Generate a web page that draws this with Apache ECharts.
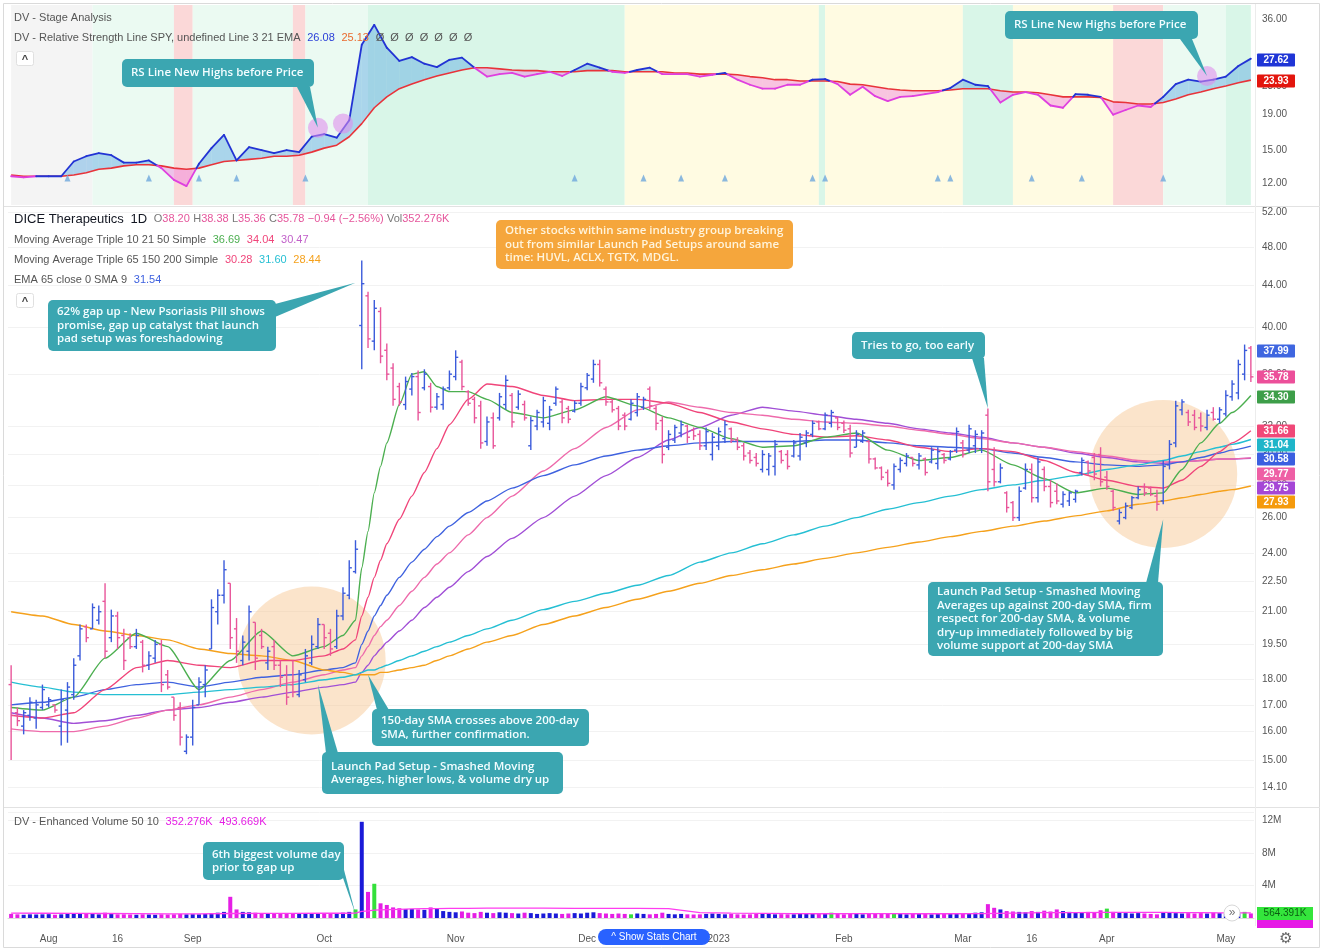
<!DOCTYPE html>
<html>
<head>
<meta charset="utf-8">
<title>DICE Therapeutics - Launch Pad Setup</title>
<script src="https://cdn.jsdelivr.net/npm/echarts@6.0.0/dist/echarts.min.js"></script>
<style>
    html, body {margin:0;padding:0;background:#fff;}
    #chart {width:1323px;height:951px;}
</style>
</head>
<body>
<div id="chart"></div>
<script>
// trading days 22 Jul 2022 - 5 May 2023 (weekends and exchange holidays skipped)
var holidays = ['2022-09-05', '2022-11-24', '2022-12-26', '2023-01-02', '2023-01-16', '2023-02-20', '2023-04-07'];
var dates = [];
var day = new Date(Date.UTC(2022, 6, 22));
while (dates.length < 199) {
    var s = day.toISOString().slice(0, 10), wd = day.getUTCDay();
    if (wd !== 0 && wd !== 6 && holidays.indexOf(s) < 0) dates.push(s);
    day.setUTCDate(day.getUTCDate() + 1);
}

var xLabelDates = ['2022-08-01', '2022-08-16', '2022-09-01', '2022-10-03', '2022-11-01', '2022-12-01',
    '2023-01-03', '2023-02-01', '2023-03-01', '2023-03-16', '2023-04-03', '2023-05-01'];
var xLabelTexts = ['Aug', '16', 'Sep', 'Oct', 'Nov', 'Dec', '2023', 'Feb', 'Mar', '16', 'Apr', 'May'];

var rsTicks = [36, 27, 23, 19, 15, 12];
var priceTicks = [52, 48, 44, 40, 36, 32, 30, 28, 26, 24, 22.5, 21, 19.5, 18, 17, 16, 15, 14.1];

// daily bars: [open, close, low, high]
var ohlc = [
    [17.8,16.6,15.0,18.6],[16.7,16.4,16.2,16.9],[16.2,16.7,15.9,16.8],[16.6,17.1,16.4,17.3],[16.5,17.0,16.1,17.2],
    [16.9,17.6,16.8,17.8],[17.0,17.2,16.9,17.3],[17.0,16.8,16.7,17.0],[16.2,17.2,15.5,17.6],[16.8,17.7,15.6,17.9],
    [17.4,18.6,17.2,18.9],[19.0,20.2,18.8,20.4],[20.3,19.8,19.6,20.4],[20.2,21.2,20.2,21.4],[20.6,21.0,20.4,21.3],
    [21.5,19.2,18.9,22.4],[19.8,20.8,19.6,21.1],[20.8,19.8,19.3,21.0],[19.9,18.8,18.4,20.2],[19.8,19.4,19.3,20.0],
    [19.4,19.9,19.3,20.2],[19.6,18.6,18.3,19.7],[18.6,19.0,18.4,19.2],[18.9,19.5,18.7,19.7],[19.5,17.8,17.5,19.7],
    [18.2,17.7,17.6,18.4],[17.3,16.6,16.4,17.3],[16.9,15.8,15.5,17.1],[15.3,15.8,15.2,15.9],[15.8,16.9,15.5,17.2],
    [17.0,17.9,17.0,18.1],[17.8,18.4,17.3,18.6],[19.3,21.2,19.3,21.6],[21.0,21.8,20.4,22.1],[21.8,23.1,21.4,23.6],
    [22.4,19.8,19.3,22.4],[20.2,19.2,18.7,20.7],[18.8,19.6,18.6,19.9],[19.2,21.0,18.8,21.3],[20.5,18.9,18.4,20.5],
    [19.9,19.4,19.3,20.2],[18.7,19.2,18.4,19.4],[19.4,18.6,18.4,19.7],[18.6,18.1,17.7,18.8],[18.2,17.3,17.0,18.6],
    [17.8,17.5,17.3,18.8],[17.4,18.2,17.3,18.4],[18.0,19.0,17.9,19.3],[18.7,19.5,18.6,19.9],[19.4,20.4,19.3,20.7],
    [20.4,19.8,19.3,20.4],[20.0,19.3,19.0,20.2],[19.4,20.8,19.3,21.1],[20.8,21.9,20.6,22.2],[21.8,23.2,21.6,23.6],
    [23.0,24.2,22.9,24.7],[40.2,44.2,36.4,46.6],[43.0,39.0,38.2,43.4],[38.8,41.8,38.0,42.6],[41.5,37.5,36.9,41.9],
    [38.0,36.0,35.5,38.6],[36.5,34.0,33.5,36.9],[35.0,33.8,33.5,35.3],[33.6,35.4,33.2,35.8],[34.8,35.8,34.3,36.1],
    [35.8,33.0,32.4,36.3],[34.9,36.0,34.7,36.4],[35.0,33.4,33.0,35.3],[33.4,34.2,33.2,34.5],[33.6,34.8,33.2,35.0],
    [34.9,36.0,34.7,36.3],[35.8,37.4,35.5,38.0],[37.0,35.0,34.7,37.2],[34.6,33.7,33.5,34.7],[34.0,32.6,32.2,34.2],
    [33.5,30.8,30.4,33.9],[30.9,32.3,30.6,32.7],[32.6,30.6,30.4,33.0],[32.6,34.2,32.4,34.5],[33.6,35.5,33.2,35.9],
    [34.3,32.3,31.9,34.5],[33.4,34.4,33.2,34.7],[33.6,32.6,32.4,33.9],[30.6,32.4,30.3,32.7],[32.0,33.0,31.7,33.2],
    [32.3,33.9,31.9,34.2],[32.2,33.2,31.7,33.5],[33.7,34.8,33.5,35.0],[33.8,32.6,32.2,34.0],[33.3,32.5,32.2,33.5],
    [33.1,33.7,33.0,33.9],[33.7,35.0,33.5,35.3],[34.9,35.9,34.7,36.1],[35.6,36.8,35.3,37.2],[36.8,35.3,35.0,37.2],
    [34.8,33.8,33.5,35.0],[33.8,33.2,33.0,34.0],[33.3,32.0,31.7,33.5],[32.8,32.0,31.7,33.0],[32.5,33.7,32.4,34.0],
    [33.0,34.2,32.7,34.5],[33.4,34.0,33.2,34.2],[34.8,33.5,33.2,35.0],[33.3,32.2,31.7,33.5],[32.4,30.0,29.4,32.7],
    [30.5,31.4,30.3,31.7],[31.0,31.9,30.8,32.1],[31.5,32.1,31.2,32.4],[32.0,31.2,30.8,32.1],[31.7,31.3,31.0,31.9],
    [31.4,30.6,30.3,31.7],[30.6,31.6,30.3,31.9],[30.0,31.2,29.6,31.5],[30.6,31.6,30.3,31.9],[31.1,32.1,30.8,32.4],
    [31.8,31.0,30.8,31.9],[31.0,30.5,30.3,31.2],[30.6,29.9,29.6,30.8],[30.1,29.6,29.4,30.3],[29.8,29.4,29.2,30.1],
    [29.0,30.0,28.8,30.3],[29.0,29.9,28.6,30.1],[29.2,30.7,28.6,31.0],[30.2,29.6,29.4,30.3],[30.0,29.2,29.0,30.3],
    [29.9,30.8,29.8,31.0],[29.9,31.2,29.6,31.5],[30.8,31.5,30.5,31.7],[31.4,32.2,31.2,32.4],[32.3,31.8,31.7,32.4],
    [31.8,32.8,31.7,33.0],[32.2,33.0,31.9,33.2],[32.6,31.9,31.7,32.7],[32.2,31.7,31.5,32.4],[31.8,30.1,29.8,32.1],
    [30.5,31.4,30.5,31.7],[30.9,31.5,30.8,31.7],[30.9,29.7,29.4,31.0],[29.7,29.1,29.0,29.8],[29.1,28.5,28.3,29.2],
    [28.8,28.1,27.9,29.0],[28.0,29.2,27.7,29.4],[29.0,29.6,28.8,29.8],[29.4,29.9,29.2,30.1],[29.8,29.4,29.2,29.8],
    [29.3,29.9,29.0,30.1],[29.7,28.8,28.6,29.8],[29.5,30.3,29.4,30.5],[29.4,30.2,29.0,30.5],[30.0,29.6,29.4,30.1],
    [29.7,30.2,29.6,30.3],[30.3,31.6,30.1,31.9],[30.8,30.0,29.8,31.0],[30.3,31.8,30.1,32.1],[30.6,31.4,30.1,31.7],
    [30.4,31.5,30.1,31.7],[32.8,28.2,27.6,33.3],[29.0,28.2,27.9,30.5],[28.2,29.1,28.1,29.4],[27.5,26.6,26.3,27.6],
    [26.9,26.0,25.8,27.0],[26.0,27.6,25.8,27.9],[27.8,29.0,27.7,29.4],[29.0,27.2,26.9,29.4],[27.2,29.5,26.9,29.8],
    [29.0,27.9,27.6,29.2],[27.9,26.9,26.6,28.3],[27.6,27.0,26.8,28.1],[26.8,27.4,26.6,27.6],[27.0,27.5,26.7,27.6],
    [27.1,27.6,26.9,27.7],[28.8,29.6,28.6,29.8],[29.5,28.9,28.6,29.6],[29.8,28.7,28.3,30.1],[30.0,28.2,27.9,30.5],
    [28.5,27.9,27.7,28.9],[27.6,26.6,26.4,27.7],[25.8,26.3,25.6,26.5],[26.0,26.7,25.9,26.9],[26.6,27.2,26.5,27.3],
    [27.2,27.7,27.1,27.9],[27.9,27.5,27.3,28.1],[27.8,27.4,27.3,27.9],[27.3,26.8,26.4,27.7],[27.0,29.2,26.8,29.6],
    [29.3,30.7,29.0,31.0],[30.8,33.5,30.5,33.9],[33.2,33.8,32.8,34.0],[33.0,32.3,32.0,33.2],[32.8,31.9,31.7,33.2],
    [32.6,32.0,31.6,33.0],[31.9,32.8,31.7,33.2],[33.0,32.5,32.4,33.4],[32.5,33.2,32.2,33.4],[32.9,34.3,32.7,34.7],
    [34.2,35.2,33.9,35.5],[34.5,36.8,34.0,37.2],[36.0,37.99,35.5,38.5],[38.2,35.78,35.36,38.38]
];

// volume, millions
var vol = [
    0.50,0.45,0.40,0.45,0.43,0.45,0.47,0.40,0.45,0.50,
    0.55,0.60,0.50,0.55,0.45,0.65,0.50,0.45,0.45,0.43,
    0.40,0.45,0.43,0.40,0.45,0.43,0.45,0.50,0.45,0.47,
    0.45,0.50,0.60,0.65,0.75,2.60,1.05,0.75,0.70,0.65,
    0.60,0.55,0.60,0.55,0.55,0.50,0.55,0.53,0.55,0.60,
    0.55,0.57,0.60,0.65,0.75,1.05,11.8,3.20,4.20,1.80,
    1.60,1.30,1.20,1.10,1.10,1.05,1.00,1.30,1.15,0.85,
    0.75,0.70,0.80,0.65,0.60,0.75,0.65,0.60,0.70,0.65,
    0.60,0.55,0.65,0.60,0.50,0.55,0.60,0.55,0.50,0.55,
    0.60,0.55,0.65,0.70,0.60,0.55,0.50,0.55,0.50,0.45,
    0.55,0.50,0.45,0.50,0.65,0.50,0.45,0.50,0.45,0.43,
    0.45,0.50,0.55,0.50,0.45,0.50,0.45,0.43,0.45,0.50,
    0.55,0.50,0.45,0.47,0.45,0.45,0.50,0.55,0.60,0.50,
    0.55,0.65,0.50,0.45,0.55,0.50,0.45,0.50,0.55,0.50,
    0.60,0.55,0.50,0.45,0.50,0.55,0.50,0.45,0.55,0.50,
    0.50,0.55,0.60,0.55,0.65,0.70,1.70,1.25,1.05,0.85,
    0.80,0.75,0.70,0.85,0.75,0.90,0.80,1.05,0.85,0.75,
    0.70,0.65,0.75,0.70,0.95,1.15,0.75,0.65,0.60,0.55,
    0.60,0.55,0.50,0.45,0.70,0.65,0.60,0.55,0.60,0.55,
    0.60,0.55,0.65,0.60,0.55,0.65,0.70,0.75,0.56
];
var pivotDays = [55, 58, 99, 131, 141, 175, 197];

// moving averages, read at these bar indexes
var maIdx = [0,5,10,15,20,25,30,35,40,45, 50,53,55,56,57,58,59,60,62,64, 66,68,70,73,76,80,85,90,95,100,
    105,110,115,120,125,130,135,140,145,150, 155,160,165,170,175,180,184,187,190,193, 195,198];
var sma10 = [16.9,16.8,17.3,18.9,20.0,19.4,17.6,18.8,20.1,19.0, 19.4,19.9,20.6,23.2,25.2,27.5,29.2,30.8,33.6,36.0,
    36.2,35.0,34.6,34.6,34.0,33.0,32.6,33.2,34.2,33.5, 32.6,31.9,31.1,30.5,30.6,31.2,31.5,30.3,29.6,29.8,
    30.3,29.3,28.4,27.5,27.8,27.4,27.5,29.0,30.8,32.2, 33.0,34.3];
var sma21 = [16.6,16.5,16.7,17.6,18.5,18.8,18.6,18.5,18.8,18.8, 19.0,19.3,19.7,20.8,21.7,22.7,23.6,24.5,25.9,27.3,
    28.8,30.4,32.1,34.0,35.2,35.0,34.3,33.9,34.0,34.0, 33.7,33.0,32.3,31.8,31.4,31.2,31.3,31.0,30.5,30.2,
    30.4,30.2,29.6,28.8,28.3,27.9,27.8,28.3,29.2,30.2, 30.8,31.66];
var sma50 = [16.1,16.0,16.0,16.2,16.5,16.8,17.0,17.3,17.6,17.9, 18.2,18.4,18.5,19.0,19.4,19.9,20.3,20.6,21.3,22.0,
    22.7,23.4,24.0,25.0,26.0,27.3,28.9,30.4,31.9,33.2, 33.8,33.4,33.0,32.8,32.5,32.3,32.2,32.0,31.7,31.4,
    31.1,30.8,30.5,30.2,29.9,29.6,29.5,29.5,29.6,29.7, 29.7,29.77];
var sma65 = [16.7,16.5,16.3,16.4,16.6,16.8,16.9,17.1,17.3,17.5, 17.7,17.8,17.9,18.3,18.6,19.0,19.3,19.6,20.1,20.6,
    21.2,21.7,22.2,23.0,23.8,24.8,26.0,27.3,28.6,29.8, 31.0,31.9,32.8,33.4,33.1,32.8,32.5,32.2,31.8,31.5,
    31.2,30.8,30.5,30.1,29.8,29.5,29.4,29.5,29.6,29.7, 29.7,29.75];
var ema65 = [17.0,17.1,17.3,17.6,17.8,17.9,17.7,17.9,18.1,18.2, 18.4,18.5,18.7,19.5,20.1,20.8,21.3,21.8,22.7,23.5,
    24.2,24.9,25.5,26.3,27.0,27.8,28.6,29.3,29.9,30.3, 30.6,30.8,30.9,30.9,30.9,31.0,31.0,30.8,30.6,30.5,
    30.4,30.1,29.8,29.5,29.3,29.2,29.3,29.5,29.8,30.1, 30.3,30.58];
var sma150 = [17.9,17.7,17.5,17.4,17.4,17.4,17.5,17.6,17.7,17.8, 18.0,18.1,18.2,18.3,18.4,18.4,18.5,18.6,18.8,19.0,
    19.2,19.4,19.6,19.9,20.2,20.6,21.1,21.5,21.9,22.3, 22.8,23.5,24.0,24.5,25.0,25.5,26.0,26.5,26.9,27.3,
    27.7,28.0,28.3,28.6,29.0,29.3,29.6,29.9,30.2,30.5, 30.7,31.04];
var sma200 = [21.0,20.8,20.4,20.1,19.9,19.7,19.3,19.1,19.0,18.8, 18.4,18.3,18.2,18.2,18.2,18.2,18.3,18.3,18.4,18.5,
    18.6,18.8,19.0,19.3,19.6,19.9,20.4,20.8,21.2,21.6, 22.0,22.4,22.8,23.1,23.4,23.7,24.0,24.3,24.6,24.9,
    25.2,25.5,25.8,26.1,26.4,26.8,27.0,27.2,27.4,27.6, 27.7,27.93];
var volMa = [0.60,0.58,0.56,0.55,0.53,0.51,0.51,0.55,0.57,0.57, 0.58,0.58,0.59,0.82,0.88,0.96,0.99,1.02,1.07,1.11,
    1.14,1.16,1.18,1.19,1.20,1.20,1.20,1.19,1.18,1.17, 1.15,0.65,0.60,0.57,0.53,0.52,0.53,0.53,0.52,0.52,
    0.53,0.60,0.65,0.67,0.70,0.70,0.70,0.67,0.65,0.64, 0.64,0.64];

// relative strength line vs SPY and its 21 EMA, every second bar
var rsIdx = [];
for (var k = 0; k < 100; k++) rsIdx.push(k * 2);
var rs = [12.6,12.5,12.6,12.6,12.6,13.9,14.4,14.7,14.5,13.8, 13.8,14.0,13.3,12.3,11.8,13.7,15.2,16.6,14.0,15.3,
    15.0,14.7,15.0,14.8,16.4,16.7,16.3,18.3,30.3,34.6, 29.7,27.2,27.9,26.7,26.1,27.4,27.8,26.0,24.5,24.9,
    25.1,24.5,24.9,25.3,24.6,25.6,26.7,26.0,25.3,25.1, 25.6,26.0,24.9,24.9,24.9,24.5,24.8,25.1,24.0,23.2,
    22.6,22.6,23.2,23.2,24.0,24.1,23.3,21.7,22.9,21.5, 20.8,21.4,21.5,21.8,22.1,22.7,24.0,23.2,23.0,20.6,
    21.7,22.1,21.7,20.2,19.9,21.8,21.7,21.4,19.0,19.6, 20.2,20.0,21.4,23.3,24.0,23.7,24.0,24.5,26.3,27.62];
var rsEma = [12.7,12.6,12.6,12.6,12.6,12.7,12.9,13.2,13.3,13.5, 13.6,13.6,13.5,13.3,13.2,13.3,13.6,13.9,14.0,14.1,
    14.2,14.4,14.4,14.5,14.8,15.2,15.5,16.4,17.9,19.9, 21.4,22.6,23.3,24.0,24.6,25.1,25.6,26.0,26.0,25.8,
    25.6,25.5,25.5,25.3,25.3,25.3,25.5,25.5,25.5,25.3, 25.3,25.3,25.3,25.1,25.1,24.9,24.9,24.9,24.8,24.5,
    24.3,24.0,24.0,23.8,23.8,23.8,23.7,23.3,23.2,22.9, 22.6,22.4,22.3,22.3,22.3,22.4,22.6,22.6,22.6,22.3,
    22.1,22.1,22.0,21.7,21.4,21.4,21.4,21.3,20.7,20.6, 20.4,20.4,20.6,21.1,21.7,22.1,22.6,23.0,23.5,23.93];
var rsSignals = [9, 22, 30, 36, 47, 90, 101, 107, 114, 128, 130, 148, 150, 163, 171, 184];
var rsHighlights = [[49, 17.4], [53, 17.9], [191, 24.6]];
var setupZones = [[48, 18.8], [184, 28.7]];

// stage analysis background
var stageFrom = [0, 13, 26, 29, 45, 47, 57, 98, 129, 130, 152, 160, 176, 184, 194];
var stageTo = [13, 26, 29, 45, 47, 57, 98, 129, 130, 152, 160, 176, 184, 194, 198];
var stageKind = ['base', 'early', 'down', 'early', 'down', 'early', 'up', 'top', 'up', 'top', 'up', 'top', 'down', 'early', 'up'];

var stageColor = {base: '#f4f4f4', early: '#ebfaf2', down: '#fbd8d8', up: '#d9f6e8', top: '#fffbe2'};
var UP = '#3b5bdb', DOWN = '#e8559a';
var RS_UP = '#2233d4', RS_DN = '#df3fdf';
var TEAL = '#3ba6b1', ORANGE = '#f5a63c';

function barItem(params, api) {
    var i = api.value(0);
    var o = api.coord([i, api.value(1)]), c = api.coord([i, api.value(2)]);
    var l = api.coord([i, api.value(3)]), h = api.coord([i, api.value(4)]);
    var st = {stroke: api.value(2) >= api.value(1) ? UP : DOWN, lineWidth: 1.4};
    return {type: 'group', children: [
        {type: 'line', shape: {x1: h[0], y1: h[1], x2: l[0], y2: l[1]}, style: st},
        {type: 'line', shape: {x1: o[0] - 2.6, y1: o[1], x2: o[0], y2: o[1]}, style: st},
        {type: 'line', shape: {x1: c[0], y1: c[1], x2: c[0] + 2.6, y2: c[1]}, style: st}
    ]};
}

// RS line coloured and filled by side of its EMA; crossings split at the intersection
function rsItem(mode) {
    return function (params, api) {
        var k = params.dataIndex;
        if (k >= rs.length - 1) return null;
        var a0 = api.coord([rsIdx[k], rs[k]]), a1 = api.coord([rsIdx[k + 1], rs[k + 1]]);
        var b0 = api.coord([rsIdx[k], rsEma[k]]), b1 = api.coord([rsIdx[k + 1], rsEma[k + 1]]);
        var up0 = rs[k] >= rsEma[k], up1 = rs[k + 1] >= rsEma[k + 1];
        var parts = [];
        if (up0 === up1) {
            parts.push([a0, a1, b1, b0, up0]);
        } else {
            var d0 = a0[1] - b0[1], d1 = a1[1] - b1[1], t = d0 / (d0 - d1);
            var m = [a0[0] + t * (a1[0] - a0[0]), a0[1] + t * (a1[1] - a0[1])];
            parts.push([a0, m, m, b0, up0]);
            parts.push([m, a1, b1, m, up1]);
        }
        return {type: 'group', children: parts.map(function (p) {
            if (mode === 'fill') {
                return {type: 'polygon', shape: {points: [p[0], p[1], p[2], p[3]]},
                    style: {fill: p[4] ? 'rgba(92,168,226,0.45)' : 'rgba(238,120,222,0.42)'}};
            }
            return {type: 'line', shape: {x1: p[0][0], y1: p[0][1], x2: p[1][0], y2: p[1][1]},
                style: {stroke: p[4] ? RS_UP : RS_DN, lineWidth: 1.8, lineCap: 'round'}};
        })};
    };
}

function pairs(idx, vals) {
    return idx.map(function (ix, n) { return [ix, vals[n]]; });
}

var maLines = [
    ['SMA 65', sma65, '#a14fd6'],
    ['SMA 50', sma50, '#ee6aab'],
    ['EMA 65', ema65, '#3f62df'],
    ['SMA 200', sma200, '#f5a11c'],
    ['SMA 150', sma150, '#25bfd3'],
    ['SMA 21', sma21, '#f0457a'],
    ['SMA 10', sma10, '#4caf50']
];

var yLabel = {color: '#555', fontSize: 10, fontFamily: 'Liberation Sans', margin: 8,
    formatter: function (v) { return Number(v).toFixed(2); }};

var series = [];
series.push({
    name: 'stages', type: 'line', xAxisIndex: 0, yAxisIndex: 0, data: [], silent: true, z: 0,
    markArea: {silent: true, data: stageFrom.map(function (f, j) {
        return [{xAxis: dates[f], itemStyle: {color: stageColor[stageKind[j]]}}, {xAxis: dates[stageTo[j]]}];
    })}
});
series.push({type: 'custom', xAxisIndex: 0, yAxisIndex: 0, renderItem: rsItem('fill'), z: 2, silent: true,
    data: rsIdx.map(function (ix, n) { return [ix, rs[n], rsEma[n]]; }), encode: {x: 0, y: [1, 2]}});
series.push({name: 'RS EMA 21', type: 'line', xAxisIndex: 0, yAxisIndex: 0, data: pairs(rsIdx, rsEma),
    symbol: 'none', z: 3, lineStyle: {color: '#e8333a', width: 1.6}});
series.push({type: 'custom', xAxisIndex: 0, yAxisIndex: 0, renderItem: rsItem('line'), z: 4, silent: true,
    data: rsIdx.map(function (ix, n) { return [ix, rs[n], rsEma[n]]; }), encode: {x: 0, y: [1, 2]}});
series.push({type: 'scatter', xAxisIndex: 0, yAxisIndex: 0, symbol: 'triangle', symbolSize: [6, 7], z: 4,
    itemStyle: {color: '#6ea7dc'}, data: rsSignals.map(function (i) { return [i, 12.45]; })});
series.push({type: 'scatter', xAxisIndex: 0, yAxisIndex: 0, symbolSize: 20, z: 5,
    itemStyle: {color: 'rgba(222,138,236,0.72)'}, data: rsHighlights});

series.push({type: 'scatter', xAxisIndex: 1, yAxisIndex: 1, symbolSize: 148, z: 1, silent: true,
    itemStyle: {color: 'rgba(246,194,136,0.55)'}, data: setupZones});
maLines.forEach(function (m) {
    series.push({name: m[0], type: 'line', xAxisIndex: 1, yAxisIndex: 1, data: pairs(maIdx, m[1]),
        symbol: 'none', smooth: 0.2, smoothMonotone: 'x', z: 2, lineStyle: {color: m[2], width: 1.4}});
});
series.push({name: 'DICE', type: 'custom', xAxisIndex: 1, yAxisIndex: 1, renderItem: barItem, z: 3,
    data: ohlc.map(function (b, i) { return [i, b[0], b[1], b[2], b[3]]; }), encode: {x: 0, y: [1, 2, 3, 4]}});

series.push({name: 'Volume', type: 'bar', xAxisIndex: 2, yAxisIndex: 2, data: vol, barWidth: 4,
    itemStyle: {color: function (p) {
        if (pivotDays.indexOf(p.dataIndex) >= 0) return '#33e03a';
        return ohlc[p.dataIndex][1] >= ohlc[p.dataIndex][0] ? '#1a1ad8' : '#e51ee5';
    }}});
series.push({name: 'Vol MA 50', type: 'line', xAxisIndex: 2, yAxisIndex: 2, data: pairs(maIdx, volMa),
    symbol: 'none', z: 3, lineStyle: {color: '#ff3cf0', width: 1.3}});

var option = {
    animation: false,
    backgroundColor: '#fff',
    grid: [
        {left: 8, right: 69, top: 5, height: 200},
        {left: 8, right: 69, top: 207, height: 593},
        {left: 8, right: 69, top: 812, height: 106}
    ],
    xAxis: [0, 1, 2].map(function (g) {
        return {
            type: 'category', gridIndex: g, data: dates,
            axisLine: {show: g === 2, lineStyle: {color: '#dcdcdc'}},
            axisTick: {show: false},
            splitLine: {show: false},
            axisLabel: g === 2 ? {
                color: '#555', fontSize: 10, fontFamily: 'Liberation Sans', margin: 16,
                interval: function (i, v) { return xLabelDates.indexOf(v) >= 0; },
                formatter: function (v) { return xLabelTexts[xLabelDates.indexOf(v)] || ''; }
            } : {show: false}
        };
    }),
    yAxis: [
        {type: 'log', gridIndex: 0, position: 'right', min: 10.4, max: 39.5,
            axisLine: {show: false}, axisTick: {show: false, customValues: rsTicks},
            splitLine: {show: false},
            axisLabel: Object.assign({customValues: rsTicks}, yLabel)},
        {type: 'log', gridIndex: 1, position: 'right', min: 13.7, max: 52.6,
            axisLine: {show: false}, axisTick: {show: false, customValues: priceTicks},
            splitLine: {show: true, lineStyle: {color: '#f2f2f2'}},
            axisLabel: Object.assign({customValues: priceTicks}, yLabel)},
        {type: 'value', gridIndex: 2, position: 'right', min: 0, max: 13, interval: 4,
            axisLine: {show: false}, axisTick: {show: false},
            splitLine: {show: true, lineStyle: {color: '#f2f2f2'}},
            axisLabel: {color: '#555', fontSize: 10, fontFamily: 'Liberation Sans', margin: 8,
                formatter: function (v) { return v === 0 ? '' : v + 'M'; }}}
    ],
    series: series
};

var chart = echarts.init(document.getElementById('chart'), null, {renderer: 'canvas'});
chart.setOption(option);

// ---- overlays: legends, price tags, callouts ----
var FONT = 'Liberation Sans';
var richBase = {
    g: {fill: '#555', fontSize: 11, fontFamily: FONT},
    t: {fill: '#131722', fontSize: 13, fontFamily: FONT},
    k: {fill: '#777', fontSize: 11, fontFamily: FONT},
    p: {fill: '#e5559b', fontSize: 11, fontFamily: FONT},
    b: {fill: '#2a3fd8', fontSize: 11, fontFamily: FONT},
    r: {fill: '#ea6b2f', fontSize: 11, fontFamily: FONT},
    gr: {fill: '#4caf50', fontSize: 11, fontFamily: FONT},
    pk: {fill: '#f0457a', fontSize: 11, fontFamily: FONT},
    pu: {fill: '#c15fc9', fontSize: 11, fontFamily: FONT},
    te: {fill: '#25bfd3', fontSize: 11, fontFamily: FONT},
    or: {fill: '#f5a11c', fontSize: 11, fontFamily: FONT},
    bl: {fill: '#3f62df', fontSize: 11, fontFamily: FONT},
    m: {fill: '#e51ee5', fontSize: 11, fontFamily: FONT}
};
var legendLines = [
    [14, 18, '{g|DV - Stage Analysis}'],
    [14, 38, '{g|DV - Relative Strength Line SPY, undefined Line 3 21 EMA}  {b|26.08}  {r|25.13}  {g|Ø  Ø  Ø  Ø  Ø  Ø  Ø}'],
    [14, 219, '{t|DICE Therapeutics}  {t|1D}  {k|O}{p|38.20} {k|H}{p|38.38} {k|L}{p|35.36} {k|C}{p|35.78} {p|−0.94 (−2.56%)} {k|Vol}{p|352.276K}'],
    [14, 240, '{g|Moving Average Triple 10 21 50 Simple}  {gr|36.69}  {pk|34.04}  {pu|30.47}'],
    [14, 260, '{g|Moving Average Triple 65 150 200 Simple}  {pk|30.28}  {te|31.60}  {or|28.44}'],
    [14, 280, '{g|EMA 65 close 0 SMA 9}  {bl|31.54}'],
    [14, 822, '{g|DV - Enhanced Volume 50 10}  {m|352.276K}  {m|493.669K}']
];
var tags = [
    [60, '27.62', '#1f35d6', '#fff'], [81, '23.93', '#e3150d', '#fff'],
    [351, '37.99', '#3f66e0', '#fff'], [377, '35.78', '#ec4f9a', '#fff'], [397, '34.30', '#3d9e49', '#fff'],
    [431, '31.66', '#f04878', '#fff'], [445, '31.04', '#1fb5c9', '#fff'], [459, '30.58', '#3b5fe0', '#fff'],
    [474, '29.77', '#ee5fa5', '#fff'], [488, '29.75', '#a546d6', '#fff'], [502, '27.93', '#f59a0c', '#fff']
];
var notes = [
    {lines: ['RS Line New Highs before Price'], box: [122, 59, 192, 28], tail: [[297, 87], [310, 87]], grid: 0, at: [49, 17.4], fill: TEAL},
    {lines: ['RS Line New Highs before Price'], box: [1005, 11, 193, 28], tail: [[1180, 39], [1192, 39]], grid: 0, at: [191, 24.6], fill: TEAL},
    {lines: ['62% gap up - New Psoriasis Pill shows', 'promise, gap up catalyst that launch', 'pad setup was foreshadowing'],
        box: [48, 300, 228, 51], tail: [[275, 304], [275, 317]], grid: 1, at: [55, 44.3], fill: TEAL},
    {lines: ['Other stocks within same industry group breaking', 'out from similar Launch Pad Setups around same', 'time: HUVL, ACLX, TGTX, MDGL.'],
        box: [496, 220, 297, 49], fill: ORANGE},
    {lines: ['Tries to go, too early'], box: [852, 332, 133, 27], tail: [[972, 358], [984, 358]], grid: 1, at: [156, 33.3], fill: TEAL},
    {lines: ['150-day SMA crosses above 200-day', 'SMA, further confirmation.'], box: [372, 709, 217, 37],
        tail: [[377, 710], [389, 710]], grid: 1, at: [57, 18.2], fill: TEAL},
    {lines: ['Launch Pad Setup - Smashed Moving', 'Averages, higher lows, & volume dry up'], box: [322, 752, 241, 42],
        tail: [[326, 753], [338, 753]], grid: 1, at: [49, 17.8], fill: TEAL},
    {lines: ['Launch Pad Setup - Smashed Moving', 'Averages up against 200-day SMA, firm', 'respect for 200-day SMA, & volume',
        'dry-up immediately followed by big', 'volume support at 200-day SMA'], box: [928, 582, 235, 74],
        tail: [[1146, 583], [1158, 583]], grid: 1, at: [184, 25.9], fill: TEAL},
    {lines: ['6th biggest volume day', 'prior to gap up'], box: [203, 842, 141, 38], tail: [[343, 866], [343, 878]], grid: 2, at: [55, 0.5], fill: TEAL}
];

var gfx = [];
// frame and panel separators
gfx.push({type: 'rect', shape: {x: 3.5, y: 3.5, width: 1316, height: 944}, style: {fill: 'none', stroke: '#dadada'}, silent: true});
[206.5, 807.5].forEach(function (y) {
    gfx.push({type: 'line', shape: {x1: 4, y1: y, x2: 1320, y2: y}, style: {stroke: '#e2e2e2', lineWidth: 1}, silent: true});
});
gfx.push({type: 'line', shape: {x1: 1255.5, y1: 4, x2: 1255.5, y2: 926}, style: {stroke: '#ececec', lineWidth: 1}, silent: true});

legendLines.forEach(function (l) {
    gfx.push({type: 'text', x: l[0], y: l[1], z: 20, style: {text: l[2], rich: richBase, verticalAlign: 'middle'}});
});
[51, 293].forEach(function (y) {
    gfx.push({type: 'rect', z: 20, shape: {x: 16.5, y: y + 0.5, width: 17, height: 14, r: 2}, style: {fill: '#fff', stroke: '#e0e0e0'}});
    gfx.push({type: 'text', z: 21, x: 25, y: y + 9, style: {text: '^', fill: '#444', font: 'bold 11px ' + FONT, align: 'center', verticalAlign: 'middle'}});
});

tags.forEach(function (t) {
    gfx.push({type: 'rect', z: 20, shape: {x: 1257, y: t[0] - 6.5, width: 38, height: 13, r: 1}, style: {fill: t[2]}});
    gfx.push({type: 'text', z: 21, x: 1276, y: t[0], style: {text: t[1], fill: t[3], font: 'bold 10px ' + FONT, align: 'center', verticalAlign: 'middle'}});
});
gfx.push({type: 'rect', z: 20, shape: {x: 1257, y: 919, width: 56, height: 9}, style: {fill: '#e619e6'}});
gfx.push({type: 'rect', z: 21, shape: {x: 1257, y: 907, width: 56, height: 13}, style: {fill: '#34e53c'}});
gfx.push({type: 'text', z: 22, x: 1285, y: 913.5, style: {text: '564.391K', fill: '#0b5d12', font: '10px ' + FONT, align: 'center', verticalAlign: 'middle'}});

// little controls along the bottom
gfx.push({type: 'circle', z: 20, shape: {cx: 1232, cy: 913, r: 8}, style: {fill: '#fff', stroke: '#d8d8d8'}});
gfx.push({type: 'text', z: 21, x: 1232, y: 913, style: {text: '»', fill: '#777', font: '12px ' + FONT, align: 'center', verticalAlign: 'middle'}});
gfx.push({type: 'rect', z: 20, shape: {x: 598, y: 929, width: 112, height: 16, r: 8}, style: {fill: '#2962ff'}});
gfx.push({type: 'text', z: 21, x: 654, y: 937, style: {text: '^ Show Stats Chart', fill: '#fff', font: '10px ' + FONT, align: 'center', verticalAlign: 'middle'}});
gfx.push({type: 'text', z: 20, x: 1286, y: 939, style: {text: '⚙', fill: '#666', font: '15px DejaVu Sans', align: 'center', verticalAlign: 'middle'}});

notes.forEach(function (n) {
    var b = n.box;
    if (n.tail) {
        var tip = chart.convertToPixel({xAxisIndex: n.grid, yAxisIndex: n.grid}, n.at);
        gfx.push({type: 'polygon', z: 30, shape: {points: [n.tail[0], n.tail[1], tip]}, style: {fill: n.fill}});
    }
    gfx.push({type: 'rect', z: 30, shape: {x: b[0], y: b[1], width: b[2], height: b[3], r: 5}, style: {fill: n.fill}});
    gfx.push({type: 'text', z: 31, x: b[0] + 9, y: b[1] + b[3] / 2, style: {
        text: n.lines.join('\n'), fill: n.fill === ORANGE ? '#fff4dc' : '#f2fdff',
        font: '600 11.5px "Open Sans"', lineHeight: 13.5, verticalAlign: 'middle'}});
});

chart.setOption({graphic: gfx});
</script>
</body>
</html>
